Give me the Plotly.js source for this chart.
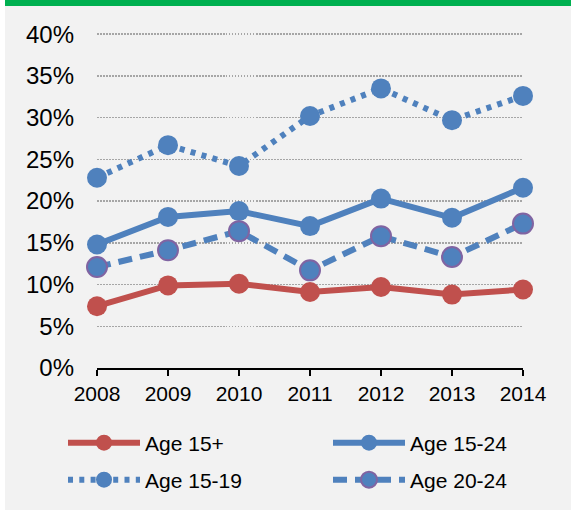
<!DOCTYPE html>
<html>
<head>
<meta charset="utf-8">
<script src="https://cdn.plot.ly/plotly-3.0.1.min.js"></script>
<style>
html,body{margin:0;padding:0;background:#ffffff;}
#chart{width:571px;height:515px;}
</style>
</head>
<body>
<div id="chart"></div>
<script>
// Data (percent)
var years = [2008, 2009, 2010, 2011, 2012, 2013, 2014];
var age15plus = [7.4, 9.9, 10.1, 9.1, 9.7, 8.8, 9.4];
var age15to24 = [14.8, 18.1, 18.8, 17.0, 20.3, 18.0, 21.6];
var age15to19 = [22.8, 26.7, 24.2, 30.2, 33.5, 29.7, 32.6];
var age20to24 = [12.1, 14.1, 16.4, 11.7, 15.8, 13.3, 17.3];
var seriesNames = ["Age 15+", "Age 15-24", "Age 15-19", "Age 20-24"];
var yTicks = [0, 5, 10, 15, 20, 25, 30, 35, 40];

var RED = "#c0504d", BLUE = "#4f81bd", PURPLE = "#8064a2";
var FONT = "Liberation Sans, Arial, sans-serif";

// pixel -> paper helpers (plot area: x 97..523, y 30..368)
var L = 97, R = 523, T = 30, B = 368;
function px(x){ return (x - L) / (R - L); }
function py(y){ return (B - y) / (B - T); }

var traces = [
  {x: years, y: age15plus, name: seriesNames[0], type: "scatter", mode: "lines+markers",
   line: {color: RED, width: 6}, marker: {color: RED, size: 20}, cliponaxis: false, legend: "legend"},
  {x: years, y: age15to24, name: seriesNames[1], type: "scatter", mode: "lines+markers",
   line: {color: BLUE, width: 6}, marker: {color: BLUE, size: 20}, cliponaxis: false, legend: "legend2"},
  {x: years, y: age15to19, name: seriesNames[2], type: "scatter", mode: "lines+markers",
   line: {color: BLUE, width: 6, dash: "5px,6.3px"}, marker: {color: BLUE, size: 20}, cliponaxis: false, legend: "legend3"},
  {x: years, y: age20to24, name: seriesNames[3], type: "scatter", mode: "lines+markers",
   line: {color: BLUE, width: 6, dash: "14px,8px"}, marker: {color: BLUE, size: 20, line: {color: PURPLE, width: 2}}, cliponaxis: false, legend: "legend4"}
];

function legendAt(x, y){
  return {
    orientation: "h", itemwidth: 72,
    font: {family: FONT, size: 21, color: "#000"}, bgcolor: "rgba(0,0,0,0)",
    xanchor: "left", yanchor: "middle", x: px(x), y: py(y)
  };
}

var layout = {
  width: 571, height: 515,
  margin: {l: L, r: 571 - R, t: T, b: 515 - B, autoexpand: false},
  paper_bgcolor: "#f2f2f2",
  plot_bgcolor: "rgba(0,0,0,0)",
  font: {family: FONT, color: "#000"},
  showlegend: true,
  hovermode: false,
  xaxis: {
    type: "linear", range: [2008, 2014], tickvals: years, ticktext: years.map(String),
    showgrid: false, zeroline: false, showline: true, linecolor: "#000", linewidth: 2,
    ticks: "outside", ticklen: 6, tickwidth: 2, tickcolor: "#000",
    tickfont: {family: FONT, size: 21, color: "#000"}
  },
  yaxis: {
    range: [0, 40.5], tickvals: yTicks, ticktext: yTicks.map(function(v){return v + "%";}),
    showgrid: true, gridcolor: "#a6a6a6", gridwidth: 1.5, griddash: "1.5px,1.5px",
    zeroline: false, showline: false, ticks: "", ticklabelstandoff: 22,
    tickfont: {family: FONT, size: 24, color: "#000"}
  },
  legend: legendAt(63, 443),
  legend2: legendAt(328, 443),
  legend3: legendAt(63, 480),
  legend4: legendAt(328, 480),
  shapes: [
    {type: "rect", xref: "paper", yref: "paper", x0: px(-20), x1: px(5), y0: py(530), y1: py(-20),
     fillcolor: "#ffffff", line: {width: 0}, layer: "below"},
    {type: "rect", xref: "paper", yref: "paper", x0: px(-20), x1: px(600), y0: py(530), y1: py(510),
     fillcolor: "#ffffff", line: {width: 0}, layer: "below"},
    {type: "rect", xref: "paper", yref: "paper", x0: px(5), x1: px(600), y0: py(6), y1: py(-20),
     fillcolor: "#00b050", line: {width: 0}, layer: "below"}
  ]
};

Plotly.newPlot("chart", traces, layout, {staticPlot: true, displayModeBar: false});
</script>
</body>
</html>
